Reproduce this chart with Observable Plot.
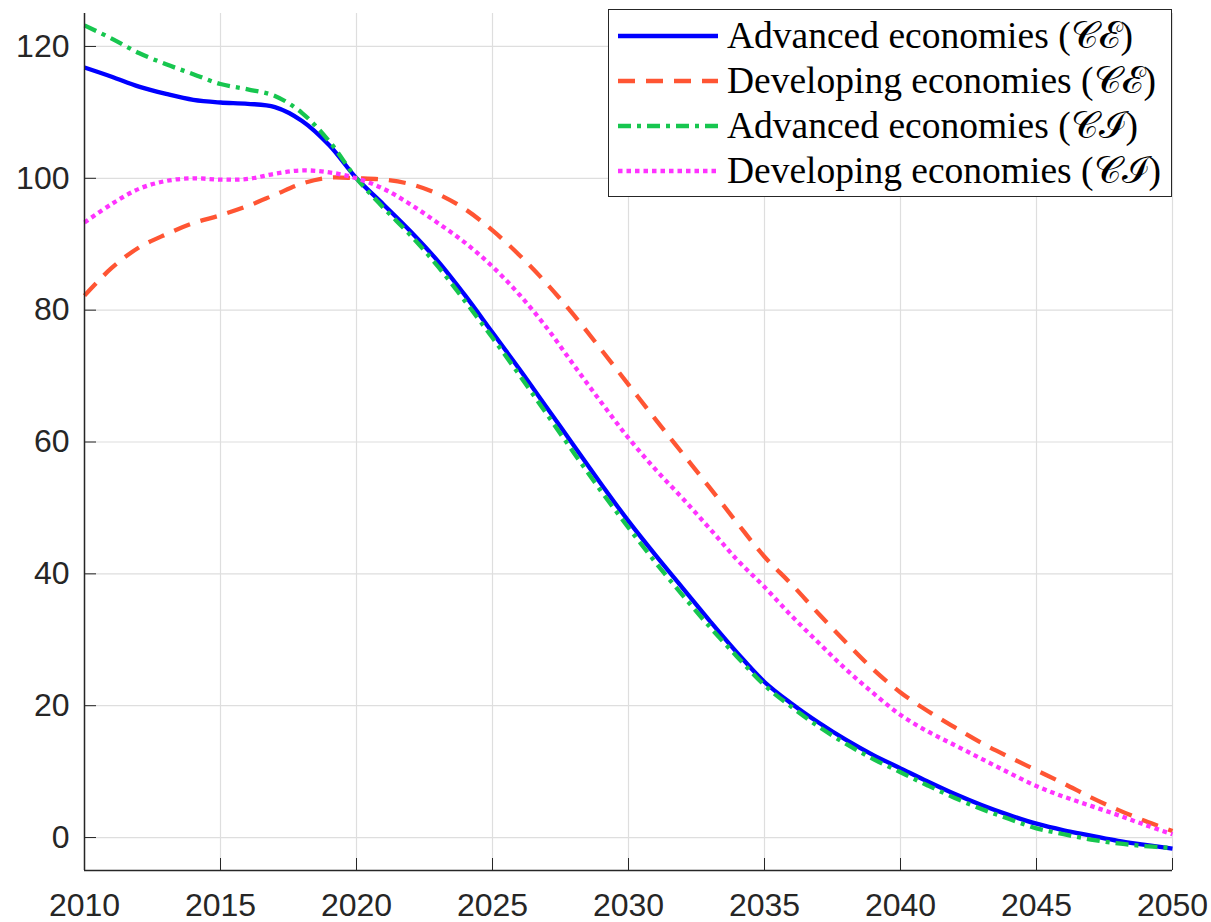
<!DOCTYPE html>
<html>
<head>
<meta charset="utf-8">
<script src="https://cdn.jsdelivr.net/npm/d3@7"></script>
<script src="https://cdn.jsdelivr.net/npm/@observablehq/plot@0.6"></script>
<style>
  html, body { margin: 0; padding: 0; background: #fff; }
  #wrap { position: relative; width: 1211px; height: 922px; }
  #legend { position: absolute; left: 608px; top: 9px; width: 564px; height: 188px;
    border: 1.5px solid #262626; background: #fff; box-sizing: border-box; }
  .row { position: absolute; left: 0; height: 45px; display: flex; align-items: center; }
  .row svg { margin-left: 9px; }
  .row span { margin-left: 9px; font-family: "Liberation Serif", "DejaVu Serif", serif; font-size: 37.5px; color: #000; white-space: nowrap; }
</style>
</head>
<body>
<div id="wrap"></div>
<script>
const years = d3.range(2010, 2051);
const advancedCE = [116.8,115.4,113.9,112.8,111.9,111.5,111.3,110.8,108.7,105.0,100.0,96.0,91.9,87.4,82.2,76.6,71.0,65.2,59.4,53.6,48.0,42.8,37.8,32.8,28.0,23.6,20.3,17.4,14.8,12.5,10.5,8.5,6.6,4.9,3.4,2.1,1.1,0.3,-0.5,-1.1,-1.7];
const developingCE = [82.2,86.4,89.5,91.5,93.2,94.4,95.8,97.5,99.2,100.1,100.0,99.8,99.1,97.6,95.3,92.1,88.3,84.0,79.2,74.0,68.7,63.4,58.2,53.0,47.7,42.6,38.4,33.9,29.6,25.5,22.0,19.2,16.7,14.3,12.2,10.2,8.2,6.1,4.2,2.5,1.0];
const advancedCI = [123.2,121.2,119.0,117.3,115.8,114.3,113.5,112.5,109.9,105.6,100.0,95.5,91.3,86.6,81.3,75.8,70.1,64.2,58.3,52.5,47.0,41.7,36.7,31.9,27.4,23.1,19.8,16.8,14.2,11.9,9.9,7.9,6.0,4.3,2.8,1.4,0.5,-0.3,-0.9,-1.3,-1.6];
const developingCI = [93.3,96.1,98.4,99.6,100.0,99.8,99.9,100.7,101.2,100.9,100.0,98.4,96.0,93.2,90.2,86.6,82.3,77.3,71.6,66.0,60.6,55.8,51.4,46.8,42.1,38.0,33.6,29.5,25.5,21.9,18.6,16.1,14.0,11.9,9.8,7.8,6.2,4.8,3.4,1.9,0.5];

const seriesNames = ["Advanced economies (𝒞ℰ)", "Developing economies (𝒞ℰ)", "Advanced economies (𝒞ℐ)", "Developing economies (𝒞ℐ)"];
const seriesColors = ["#0000ff", "#ff5533", "#17c64f", "#ff33ff"];
const seriesDash = [null, "17,11", "13,6,4,6", "4.5,4"];
const seriesValues = [advancedCE, developingCE, advancedCI, developingCI];

const xTicks = d3.range(2010, 2051, 5);
const yTicks = d3.range(0, 121, 20);

const table = seriesValues.map((vals, i) => years.map((yr, j) => ({year: yr, value: vals[j], series: i})));

const lineMarks = table.map((rows, i) => Plot.line(rows, {
  x: "year", y: "value", stroke: seriesColors[i], strokeWidth: 4.3,
  strokeDasharray: seriesDash[i], curve: "catmull-rom", strokeLinecap: "butt"
}));

const chart = Plot.plot({
  width: 1211, height: 922,
  marginLeft: 84, marginRight: 39, marginTop: 13, marginBottom: 52,
  style: {fontFamily: "'Liberation Sans', Arial, sans-serif", fontSize: "32px", color: "#262626", background: "#fff"},
  x: {domain: [2010, 2050], ticks: xTicks, tickFormat: "d"},
  y: {domain: [-5, 125], ticks: yTicks},
  marks: [
    Plot.gridX(xTicks, {stroke: "#dedede", strokeOpacity: 1, strokeWidth: 1.2}),
    Plot.gridY(yTicks, {stroke: "#dedede", strokeOpacity: 1, strokeWidth: 1.2}),
    ...lineMarks,
    Plot.ruleX([2010], {stroke: "#262626", strokeWidth: 1.5}),
    Plot.ruleY([-5], {stroke: "#262626", strokeWidth: 1.5}),
    Plot.axisX(xTicks, {tickSize: -12, tickPadding: 35, tickFormat: "d", label: null, stroke: "#262626", fill: "#262626"}),
    Plot.axisY(yTicks, {tickSize: -12, tickPadding: 27, label: null, stroke: "#262626", fill: "#262626"})
  ]
});

const wrap = document.getElementById("wrap");
wrap.appendChild(chart);

const legend = document.createElement("div");
legend.id = "legend";
seriesNames.forEach((name, i) => {
  const row = document.createElement("div");
  row.className = "row";
  row.style.top = (3 + i * 45) + "px";
  const dash = seriesDash[i] ? `stroke-dasharray="${seriesDash[i]}"` : "";
  row.innerHTML = `<svg width="100" height="10"><line x1="0" y1="5" x2="100" y2="5" stroke="${seriesColors[i]}" stroke-width="4.3" ${dash}/></svg><span>${name}</span>`;
  legend.appendChild(row);
});
wrap.appendChild(legend);
</script>
</body>
</html>
